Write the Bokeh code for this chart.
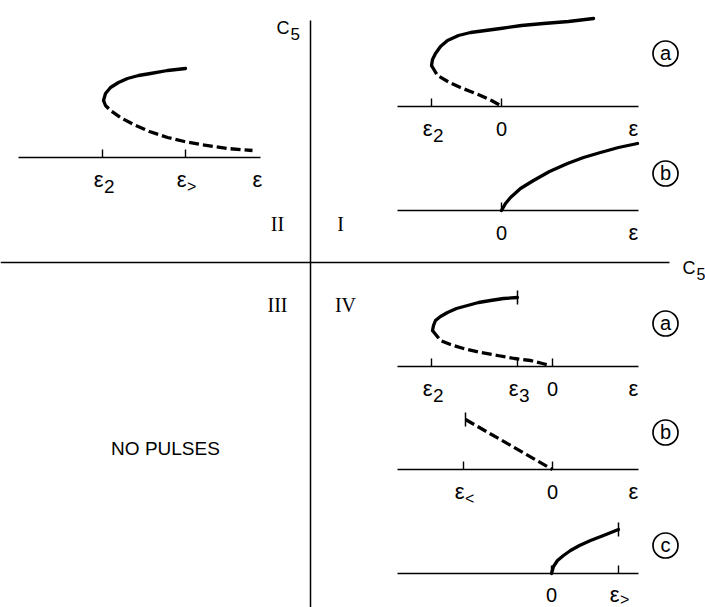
from bokeh.plotting import figure
from bokeh.models import Range1d
from bokeh.core.properties import value
from bokeh.embed import file_html
from bokeh.resources import INLINE

# ---- schematic bifurcation curves, each in its own local (eps, C) units ----
# quadrant II
q2_solid_eps = [1, 3, 8, 16, 25, 36, 48, 65, 83]
q2_solid_c = [57, 64, 70, 75, 79, 82, 84, 87, 89]
q2_dash_eps = [1, 3, 8, 18, 31, 47, 65, 82, 98, 125, 150]
q2_dash_c = [57, 52, 47, 40, 33, 26, 20, 16, 13, 9, 7]

# quadrant I, case a
ia_solid_eps = [-70, -69, -66, -61, -54, -43, -31, -16, -1, 20, 42, 67, 92]
ia_solid_c = [41, 47, 53, 60, 66, 71, 74, 76, 78, 81, 83, 85, 88]
ia_dash_eps = [-70, -64, -52, -41, -31, -21, -10, -1]
ia_dash_c = [41, 31, 24, 19, 15, 11, 6, 1]

# quadrant I, case b
ib_solid_eps = [0, 4, 9, 19, 32, 48, 66, 82, 99, 117, 136]
ib_solid_c = [0, 7, 13, 22, 30, 39, 47, 53, 58, 63, 67]

# quadrant IV, case a
iva_solid_eps = [-120, -119, -117, -112, -105, -96, -85, -74, -62, -49, -35]
iva_solid_c = [36, 41, 46, 50, 54, 58, 61, 64, 66, 68, 69]
iva_dash_eps = [-120, -116, -112, -102, -89, -72, -55, -38, -22, -10, -2]
iva_dash_c = [36, 31, 26, 22, 18, 14, 11, 8, 6, 3, 1]

# quadrant IV, case b
ivb_dash_eps = [-87, 0]
ivb_dash_c = [50, 0]

# quadrant IV, case c
ivc_solid_eps = [0, 2, 6, 12, 19, 28, 39, 52, 67]
ivc_solid_c = [0, 7, 13, 18, 23, 28, 33, 38, 44]

# tick positions and labels of each small eps axis: (eps, main, subscript)
q2_ticks = [(0, "ε", "2"), (83, "ε", ">")]
ia_ticks = [(-70, "ε", "2"), (0, "0", "")]
ib_ticks = [(0, "0", "")]
iva_ticks = [(-121, "ε", "2"), (-35, "ε", "3"), (0, "0", "")]
ivb_ticks = [(-89, "ε", "<"), (0, "0", "")]
ivc_ticks = [(0, "0", ""), (67, "ε", ">")]

W, H = 705, 607
p = figure(width=W, height=H, output_backend="svg", toolbar_location=None,
           x_range=Range1d(0, W), y_range=Range1d(H, 0), min_border=0)
p.axis.visible = False
p.grid.visible = False
p.outline_line_color = None
p.background_fill_color = "white"
p.border_fill_color = "white"

SANS = value("Liberation Sans")
SERIF = value("Liberation Serif")
INK = "black"


def label(x, y, txt, size, font=SANS, align="center", baseline="alphabetic"):
    p.text(x=[x], y=[y], text=[txt], text_font=font, text_font_size=f"{size}px",
           text_align=align, text_baseline=baseline, text_color=INK)


class Inset:
    """A small eps-axis panel with its own origin on the page."""

    def __init__(self, ox, oy, left, right, label_dy=22, sub_dy=29):
        self.ox, self.oy = ox, oy
        self.label_dy, self.sub_dy = label_dy, sub_dy
        p.line([ox + left, ox + right], [oy, oy], line_color=INK, line_width=1.5)

    def pts(self, eps, c):
        return [self.ox + e for e in eps], [self.oy - v for v in c]

    def curve(self, eps, c, dashed=False):
        xs, ys = self.pts(eps, c)
        p.line(xs, ys, line_color=INK, line_width=3.3,
               line_dash="10 4" if dashed else "solid",
               line_join="round", line_cap="butt" if dashed else "round")

    def endbar(self, eps, c, half=7):
        xs, ys = self.pts([eps, eps], [c - half, c + half])
        p.line(xs, ys, line_color=INK, line_width=1.5)

    def ticks(self, spec, eps_label_at=None):
        for e, main, sub in spec:
            xs, ys = self.pts([e, e], [0, 8])
            p.line(xs, ys, line_color=INK, line_width=1.4)
            self.tick_label(e, main, sub)
        if eps_label_at is not None:
            self.tick_label(eps_label_at, "ε", "")

    def tick_label(self, e, main, sub):
        x, y = self.ox + e, self.oy + self.label_dy
        if sub:
            label(x + 1, y, main, 22, align="right")
            sub_size = 19 if sub.isdigit() else 16
            label(x + 1.5, self.oy + self.sub_dy, sub, sub_size, align="left")
        else:
            label(x, y, main, 22 if main == "ε" else 20)


def circled(x, y, letter):
    p.scatter([x], [y], size=25, marker="circle", fill_color=None,
              line_color=INK, line_width=1.7)
    label(x, y - 1, letter, 20, baseline="middle")


# ---- main C5 / C5 cross ----
p.line([310, 310], [20, H], line_color=INK, line_width=1.5)
p.line([0, 669], [262, 262], line_color=INK, line_width=1.5)
label(276, 27, "C", 18, align="left")
label(290, 33, "5", 17, align="left")
label(682, 267, "C", 18, align="left")
label(696, 273, "5", 16, align="left")

# quadrant numerals
label(277, 223, "II", 20, font=SERIF)
label(340, 223, "I", 20, font=SERIF)
label(277, 304, "III", 20, font=SERIF)
label(345, 304, "IV", 20, font=SERIF)

label(165, 448, "NO PULSES", 19)

# ---- quadrant II ----
q2 = Inset(102, 157, -84, 158)
q2.curve(q2_solid_eps, q2_solid_c)
q2.curve(q2_dash_eps, q2_dash_c, dashed=True)
q2.ticks(q2_ticks, eps_label_at=155)

# ---- quadrant I ----
ia = Inset(501, 106, -104, 137)
ia.curve(ia_solid_eps, ia_solid_c)
ia.curve(ia_dash_eps, ia_dash_c, dashed=True)
ia.ticks(ia_ticks, eps_label_at=132)
circled(665, 53, "a")

ib = Inset(501, 210, -104, 137)
ib.curve(ib_solid_eps, ib_solid_c)
ib.ticks(ib_ticks, eps_label_at=132)
circled(665, 173, "b")

# ---- quadrant IV ----
iva = Inset(552, 366, -155, 86)
iva.curve(iva_solid_eps, iva_solid_c)
iva.curve(iva_dash_eps, iva_dash_c, dashed=True)
iva.endbar(iva_solid_eps[-1], iva_solid_c[-1])
iva.ticks(iva_ticks, eps_label_at=81)
circled(665, 323, "a")

ivb = Inset(552, 469, -155, 86)
ivb.curve(ivb_dash_eps, ivb_dash_c, dashed=True)
ivb.endbar(ivb_dash_eps[0], ivb_dash_c[0])
ivb.ticks(ivb_ticks, eps_label_at=81)
circled(665, 432, "b")

# bottom panel sits close to the page edge, so its labels ride a little higher
ivc = Inset(551, 573, -154, 87, label_dy=21, sub_dy=26)
ivc.curve(ivc_solid_eps, ivc_solid_c)
ivc.endbar(ivc_solid_eps[-1], ivc_solid_c[-1])
ivc.ticks(ivc_ticks)
circled(665, 545, "c")

open("out.html", "w").write(file_html(p, INLINE))
